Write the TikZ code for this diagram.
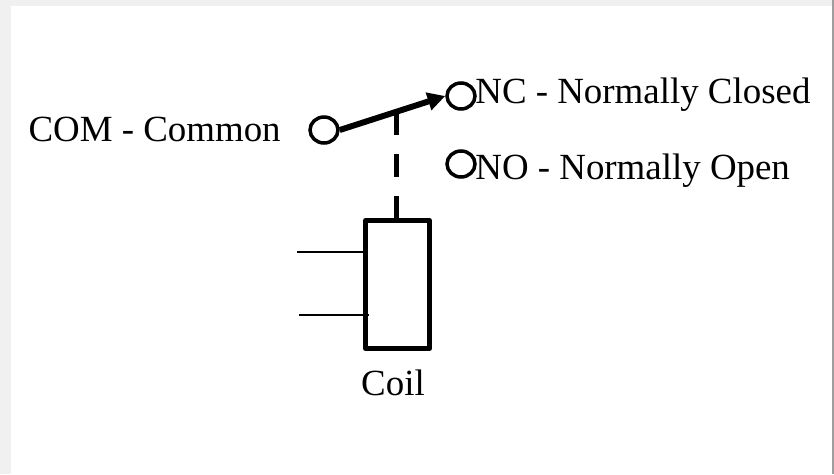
\documentclass[tikz,border=0pt]{standalone}
\usepackage{fontspec}
\setmainfont{Liberation Serif}
\usepackage{tikz}
\usetikzlibrary{arrows.meta}
\usetikzlibrary{calc}
\usetikzlibrary{shapes.geometric}

\tikzset{
  contact/.style={draw, ellipse, line width=2pt, minimum width=0.56cm, minimum height=0.52cm, inner sep=0pt},
  label/.style={font=\fontsize{21}{25}\selectfont, inner sep=0pt},
  lead/.style={line width=1pt}
}

\begin{document}
\begin{tikzpicture}[x=0.02cm, y=-0.02cm]
      % Fix the page size and draw the backdrop
      \useasboundingbox (0, 0) rectangle (834, 474);
      \fill[black!6] (0, 0) rectangle (834, 474);
      \fill[white] (11, 6) rectangle (832, 474);
      \fill[black!38] (832, 0) rectangle (834, 474);

      % Define the contacts and the coil
      \node[contact] (com) at (324, 130) {};
      \node[contact] (nc) at (461, 96) {};
      \node[contact] (no) at (461, 164) {};
      \node[draw, line width=2.8pt, line join=round, minimum width=1.28cm, minimum height=2.56cm, inner sep=0pt] (coil) at (397.5, 284.5) {};

      % Draw the switch arm and the dashed link
      \draw[line width=3.4pt, -{Triangle[length=10pt, width=10pt]}] (com.east) -- (nc.west);
      \coordinate (armtop) at ($(com.east)!0.54!(nc.west)$);
      \draw[line width=2.9pt, dash pattern=on 0.46cm off 0.38cm] (armtop) -- (armtop |- coil.north);

      % Draw the coil leads
      \coordinate (leadA) at (297, 252);
      \coordinate (leadB) at (299, 315);
      \draw[lead] (leadA) -- (leadA -| coil.west);
      \draw[lead] (leadB) -- ($(leadB -| coil.west)+(6, 0)$);

      % Label the contacts and the coil
      \node[label, anchor=base west] (nctext) at (475, 103) {NC - Normally Closed};
      \node[label, anchor=base west] (notext) at (475, 179) {NO - Normally Open};
      \node[label, anchor=base east] (comtext) at (281, 141) {COM - Common};
      \node[label, anchor=base] (coiltext) at (393, 395) {Coil};
    \end{tikzpicture}
\end{document}
